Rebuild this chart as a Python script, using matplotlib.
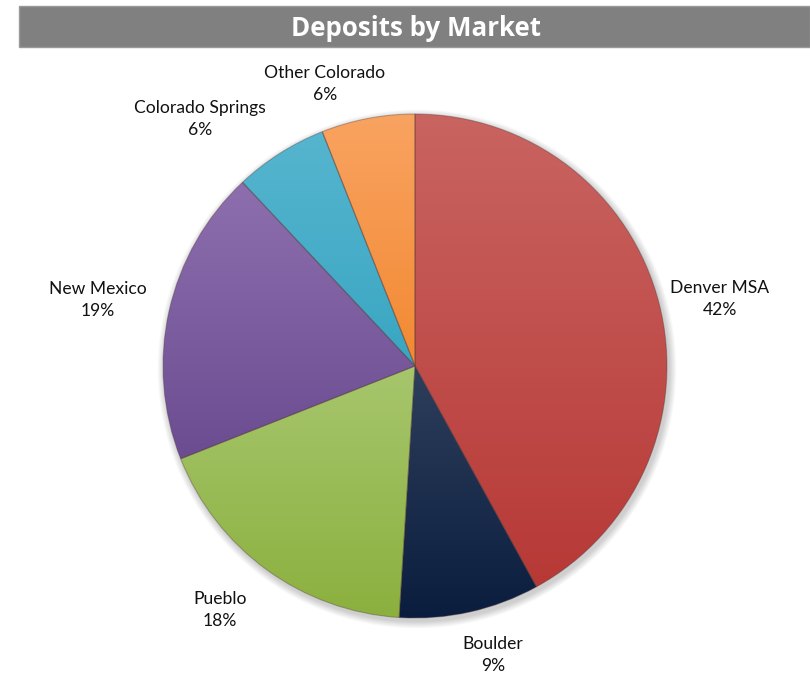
import numpy as np
import matplotlib
matplotlib.use("Agg")
import matplotlib.pyplot as plt
from matplotlib.colors import to_rgb
from matplotlib.patches import Rectangle, Circle

# Deposit share by market (percent)
markets = ["Denver MSA", "Boulder", "Pueblo", "New Mexico", "Colorado Springs", "Other Colorado"]
shares = [42, 9, 18, 19, 6, 6]

# Light (top) and dark (bottom) tones for each slice
top_colors = ["#C96461", "#2E3F5C", "#A7C66D", "#8D6FAE", "#56B5CF", "#F9A361"]
bottom_colors = ["#B73936", "#0B1D3E", "#8BB03E", "#6C4C91", "#3AA6C2", "#F28932"]

W, H = 810, 676
fig = plt.figure(figsize=(W / 100, H / 100), dpi=100)
ax = fig.add_axes([0, 0, 1, 1])

cx, cy, r = 415, H - 366, 252

# soft drop shadow behind the pie
for k in range(8):
    ax.add_patch(Circle((cx + 2, cy - 3), r + 1 + k * 0.9, facecolor="black",
                        edgecolor="none", alpha=0.025, zorder=0))

wedges, _ = ax.pie(shares, startangle=90, counterclock=False, center=(cx, cy),
                   radius=r, colors=bottom_colors,
                   wedgeprops=dict(edgecolor=(0.3, 0.2, 0.2, 0.35), linewidth=0.8),
                   frame=False)

# vertical gradient fill clipped to each wedge
for w, c0, c1 in zip(wedges, top_colors, bottom_colors):
    verts = w.get_path().vertices
    y0, y1 = verts[:, 1].min(), verts[:, 1].max()
    x0, x1 = verts[:, 0].min(), verts[:, 0].max()
    t = np.linspace(0, 1, 256)[:, None]
    a, b = np.array(to_rgb(c0)), np.array(to_rgb(c1))
    img = (a * (1 - t) + b * t)[:, None, :]
    im = ax.imshow(img, extent=[x0, x1, y0, y1], origin="upper",
                   aspect="auto", zorder=w.get_zorder() + 0.1, interpolation="bilinear")
    im.set_clip_path(w)
    w.set_facecolor("none")
    w.set_zorder(w.get_zorder() + 0.2)

ax.set_xlim(0, W)
ax.set_ylim(0, H)
ax.set_aspect("equal")
ax.axis("off")

# title banner
ax.add_patch(Rectangle((19, H - 47), W - 19, 41, facecolor="#808080",
                       edgecolor="#9a9a9a", linewidth=1, zorder=5))
ax.text(416, H - 29, "Deposits by Market", ha="center", va="center",
        color="white", fontsize=18.6, fontweight="bold", family="Open Sans", zorder=6)

# slice labels
label_pos = [(720, 299), (493, 655), (220, 610), (98, 300), (200, 119), (325, 84)]
for name, val, (lx, ly) in zip(markets, shares, label_pos):
    ax.text(lx, H - ly, f"{name}\n{val}%", ha="center", va="center",
            fontsize=12.6, family="Lato", color="#111111", linespacing=1.5, zorder=6)

fig.savefig("out.png", dpi=100)
